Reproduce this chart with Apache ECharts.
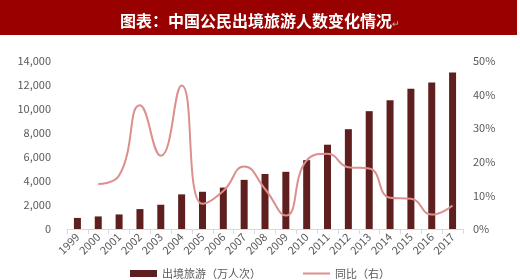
<!DOCTYPE html>
<html><head><meta charset="utf-8">
<script src="https://cdn.jsdelivr.net/npm/echarts@6/dist/echarts.min.js"></script>
<style>html,body{margin:0;padding:0;background:#fff}#c{width:520px;height:280px}</style>
</head><body><div id="c"></div>
<script>
const years = ['1999','2000','2001','2002','2003','2004','2005','2006','2007','2008','2009','2010','2011','2012','2013','2014','2015','2016','2017'];
const trips = [923,1047,1213,1660,2022,2885,3103,3452,4095,4584,4766,5739,7025,8318,9819,10728,11689,12203,13051];
const yoy = [null,13.4,15.9,36.8,21.8,42.7,7.5,11.3,18.6,11.9,4.0,20.4,22.4,18.4,18.0,9.3,9.0,4.3,7.0];
const titleText = '图表：中国公民出境旅游人数变化情况';
const labelColor = '#595959';
const font = '"Noto Sans CJK SC", "Noto Sans", sans-serif';
const chart = echarts.init(document.getElementById('c'));
chart.setOption({
  animation: false,
  graphic: [{type:'rect', shape:{x:0,y:0,width:517,height:35}, style:{fill:'#990000'}, z:-1}],
  title: {text: titleText + '{r|↵}', left: 'center', top: 8,
    textStyle:{color:'#fff', fontSize:16, fontWeight:'bold', fontFamily:font,
      rich:{r:{color:'#bbb', fontSize:9, fontWeight:'normal', padding:[6,0,0,0]}}}},
  grid: {left:67, right:57, top:61, bottom:51},
  legend: {left:125, top:263, itemGap:42, itemWidth:27, itemHeight:7,
    textStyle:{color:labelColor, fontSize:11, fontFamily:font},
    data:[{name:'出境旅游（万人次）', icon:'rect'},
          {name:'同比（右）', icon:'path://M0,0 L27,0 L27,2 L0,2 Z'}]},
  xAxis: {type:'category', data: years, boundaryGap:true,
    axisLine:{lineStyle:{color:'#d9d9d9'}},
    axisTick:{show:true, length:5, lineStyle:{color:'#d9d9d9'}},
    axisLabel:{rotate:45, color:labelColor, fontSize:11, fontFamily:font, margin:6, interval:0}},
  yAxis: [
    {type:'value', min:0, max:14000, interval:2000, splitLine:{show:false},
     axisLine:{show:false}, axisTick:{show:false},
     axisLabel:{color:labelColor, fontSize:11, fontFamily:font, margin:16,
       formatter: v => v.toLocaleString('en-US')}},
    {type:'value', min:0, max:50, interval:10, splitLine:{show:false},
     axisLine:{show:false}, axisTick:{show:false},
     axisLabel:{color:labelColor, fontSize:11, fontFamily:font, margin:10, formatter:'{value}%'}}
  ],
  series: [
    {name:'出境旅游（万人次）', type:'bar', data: trips, barWidth:7, itemStyle:{color:'#5f1f1f'}},
    {name:'同比（右）', type:'line', yAxisIndex:1, data: yoy, smooth:0.5, showSymbol:false, symbol:'none',
     lineStyle:{color:'#dc8f8c', width:2}, itemStyle:{color:'#dc8f8c'}}
  ]
});
</script></body></html>
